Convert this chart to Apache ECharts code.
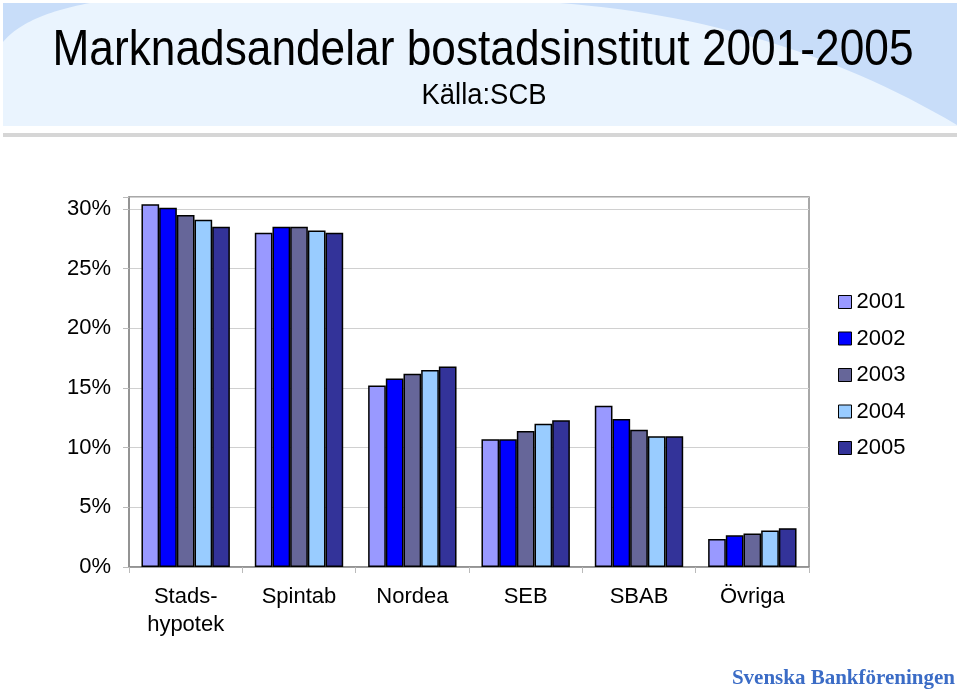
<!DOCTYPE html>
<html>
<head>
<meta charset="utf-8">
<script src="https://cdn.jsdelivr.net/npm/echarts@6/dist/echarts.min.js"></script>
<style>
html,body{margin:0;padding:0;background:#fff;}
#chart{width:960px;height:694px;}
</style>
</head>
<body>
<div id="chart"></div>
<script>
// ---- Data ----
const categories = ['Stads-\nhypotek', 'Spintab', 'Nordea', 'SEB', 'SBAB', 'Övriga'];
const seriesNames = ['2001', '2002', '2003', '2004', '2005'];
const y2001 = [30.4, 28.0, 15.2, 10.7, 13.5, 2.35];
const y2002 = [30.1, 28.5, 15.8, 10.7, 12.4, 2.65];
const y2003 = [29.5, 28.5, 16.2, 11.4, 11.5, 2.8];
const y2004 = [29.1, 28.2, 16.5, 12.0, 10.95, 3.05];
const y2005 = [28.5, 28.0, 16.8, 12.3, 10.95, 3.25];
const yTicks = [0, 5, 10, 15, 20, 25, 30];
const titleText = 'Marknadsandelar bostadsinstitut 2001-2005';
const subtitleText = 'Källa:SCB';
const footerText = 'Svenska Bankföreningen';

const seriesData = [y2001, y2002, y2003, y2004, y2005];
const colors = ['#9999FF', '#0000FF', '#666699', '#99CCFF', '#333399'];

function measure(text, font) {
  const c = document.createElement('canvas').getContext('2d');
  c.font = font;
  return c.measureText(text).width;
}
function quadPoints(p0, p1, p2, extra) {
  const pts = [];
  for (let i = 0; i <= 30; i++) {
    const t = i / 30, u = 1 - t;
    pts.push([u * u * p0[0] + 2 * u * t * p1[0] + t * t * p2[0], u * u * p0[1] + 2 * u * t * p1[1] + t * t * p2[1]]);
  }
  return pts.concat(extra);
}
const FONT = '"Liberation Sans", Arial, sans-serif';
const titleFont = '50px ' + FONT;
const subFont = '29px ' + FONT;
const titleScale = 861 / measure(titleText, titleFont);
const subScale = 125 / measure(subtitleText, subFont);

const chart = echarts.init(document.getElementById('chart'), null, {renderer: 'canvas'});
const option = {
  animation: false,
  backgroundColor: '#ffffff',
  textStyle: {fontFamily: FONT},
  graphic: [
    {type: 'rect', z: -10, shape: {x: 3, y: 3, width: 954, height: 123}, style: {fill: '#EAF4FE'}},
    {type: 'polygon', z: -9, shape: {points: quadPoints([560, 3], [780, 20], [957, 125], [[957, 3]])}, style: {fill: '#C8DDF9'}},
    {type: 'polygon', z: -9, shape: {points: quadPoints([90, 3], [25, 15], [3, 42], [[3, 3]])}, style: {fill: '#C8DDF9'}},
    {type: 'rect', z: -9, shape: {x: 3, y: 133, width: 954, height: 4}, style: {fill: '#D6D6D6'}},
    {type: 'text', x: 483, y: 51, scaleX: titleScale, scaleY: 1,
     style: {text: titleText, font: titleFont, fill: '#000', textAlign: 'center', textVerticalAlign: 'middle'}},
    {type: 'text', x: 484, y: 96, scaleX: subScale, scaleY: 1,
     style: {text: subtitleText, font: subFont, fill: '#000', textAlign: 'center', textVerticalAlign: 'middle'}},
    {type: 'text', x: 955, y: 679,
     style: {text: footerText, font: 'bold 21px "Liberation Serif", "DejaVu Serif", serif', fill: '#3B6CC6', textAlign: 'right', textVerticalAlign: 'middle'}}
  ],
  legend: {
    orient: 'vertical',
    left: 833,
    top: 286,
    itemWidth: 13,
    itemHeight: 13,
    itemGap: 14.5,
    icon: 'rect',
    data: seriesNames,
    textStyle: {fontSize: 22, color: '#000', fontFamily: FONT, padding: [0, 0, 0, 0]},
    itemStyle: {borderColor: '#000', borderWidth: 1}
  },
  grid: {
    left: 129, right: 151, top: 197, bottom: 127,
    show: true, borderColor: '#8C8C8C', borderWidth: 1.5, backgroundColor: 'transparent'
  },
  xAxis: {
    type: 'category',
    data: categories,
    axisLine: {lineStyle: {color: '#8C8C8C', width: 1.5}},
    axisTick: {show: true, length: 6, lineStyle: {color: '#BBBBBB'}},
    axisLabel: {color: '#000', fontSize: 22, margin: 16, lineHeight: 28, interval: 0}
  },
  yAxis: {
    type: 'value',
    min: 0, max: 31, interval: 5,
    axisLine: {show: true, lineStyle: {color: '#8C8C8C', width: 1.5}},
    axisTick: {show: true, length: 6, lineStyle: {color: '#BBBBBB'}},
    splitLine: {show: true, lineStyle: {color: '#D0D0D0', width: 1}},
    axisLabel: {
      color: '#000', fontSize: 22, margin: 18,
      formatter: function (v) { return yTicks.indexOf(v) >= 0 ? v + '%' : ''; }
    }
  },
  series: seriesNames.map((name, i) => ({
    name: name,
    type: 'bar',
    data: seriesData[i],
    barGap: '0%',
    barCategoryGap: '22%',
    itemStyle: {color: colors[i], borderColor: '#000', borderWidth: 1.5}
  }))
};
chart.setOption(option);
</script>
</body>
</html>
